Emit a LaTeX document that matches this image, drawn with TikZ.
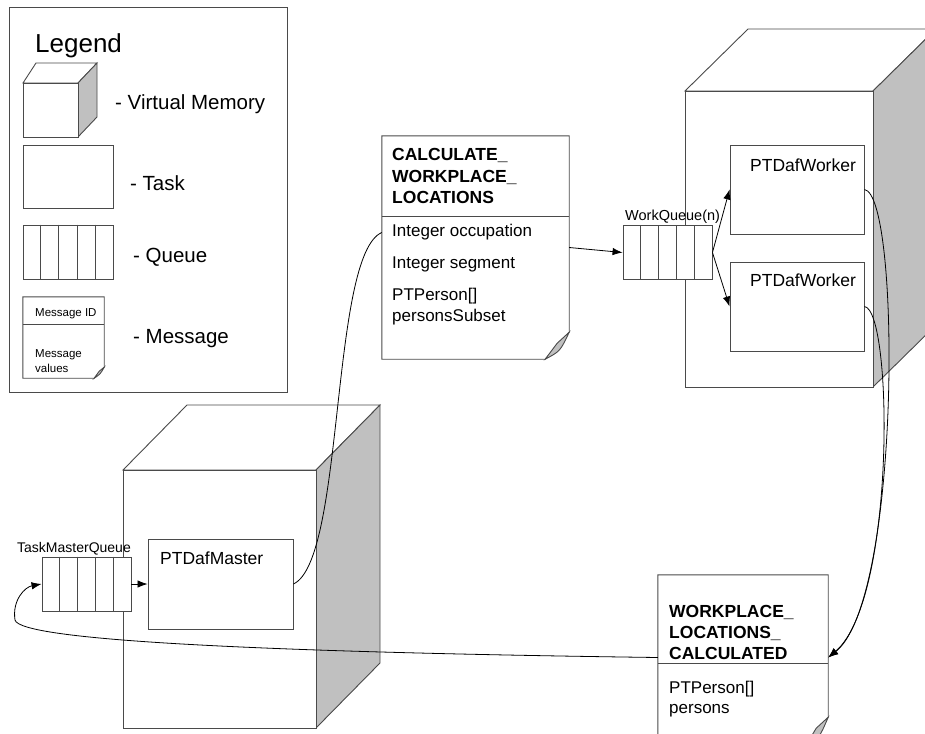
\documentclass[tikz,border=0pt]{standalone}
\usepackage{fontspec}
\setmainfont{Liberation Sans}
\usepackage{tikz}
\usetikzlibrary{arrows.meta,calc}
\definecolor{edgegray}{HTML}{4A4A4A}
\definecolor{sidegray}{HTML}{C0C0C0}
\tikzset{
  shapeline/.style={draw=edgegray,line width=0.9pt},
  taskbox/.style={shapeline,fill=white,rectangle,inner sep=0pt},
  queuebox/.style={shapeline,fill=white,rectangle,inner sep=0pt,minimum width=89pt,minimum height=54pt},
  msgarea/.style={rectangle,inner sep=0pt},
  flow/.style={black,line width=0.8pt},
  flowarrow/.style={flow,-{Latex[length=10pt,width=7.5pt]}},
  txt/.style={anchor=base west,inner sep=0pt},
  bigtxt/.style={txt,font=\fontsize{20.5pt}{24pt}\selectfont},
  tasktxt/.style={txt,font=\fontsize{17.5pt}{21pt}\selectfont},
  headtxt/.style={txt,font=\fontsize{17.5pt}{21pt}\selectfont\bfseries},
  bodytxt/.style={txt,font=\fontsize{17pt}{20pt}\selectfont},
  qtxt/.style={txt,font=\fontsize{14pt}{17pt}\selectfont},
  smalltxt/.style={txt,font=\fontsize{11.5pt}{14pt}\selectfont}
}
\begin{document}
\begin{tikzpicture}[x=1pt,y=-1pt,>=Latex]
  \useasboundingbox (0,0) rectangle (925,733);
  \clip (0,0) rectangle (925,733);

  % legend
  \node[taskbox,minimum width=278pt,minimum height=385pt] (legendbox) at (148.5,199.5) {};
  \node[txt,font=\fontsize{26pt}{30pt}\selectfont] (legendtitle) at (35,53) {Legend};
  \draw[shapeline,fill=white] (23,83) -- (36,63) -- (97,63) -- (78,83) -- cycle;
  \draw[shapeline,fill=sidegray] (78,83) -- (97,63) -- (97,117) -- (78,137) -- cycle;
  \draw[shapeline,fill=white] (23,83) rectangle (78,137);
  \node[bigtxt] (vmlabel) at (115,110) {- Virtual Memory};
  \node[taskbox,minimum width=90pt,minimum height=63pt] (taskicon) at (68,176.5) {};
  \node[bigtxt] (tasklabel) at (130,190) {- Task};
  \node[queuebox,minimum width=90pt] (queueicon) at (68,252) {};
  \node[bigtxt] (queuelabel) at (133,262) {- Queue};
  \node[msgarea,minimum width=81pt,minimum height=81pt] (msgicon) at (63.5,337.5) {};
  \draw[shapeline,fill=white] (msgicon.north west) -- (msgicon.north east) -- ([yshift=11pt]msgicon.south east)
    -- ([xshift=-10pt]msgicon.south east) -- (msgicon.south west) -- cycle;
  \draw[shapeline,fill=sidegray] ([yshift=11pt]msgicon.south east) -- ([xshift=-5pt,yshift=7pt]msgicon.south east)
    -- ([xshift=-10pt]msgicon.south east) .. controls ([xshift=-4pt,yshift=4pt]msgicon.south east) .. cycle;
  \draw[shapeline] ([yshift=-28pt]msgicon.north west) -- ([yshift=-28pt]msgicon.north east);
  \node[smalltxt] (msgid) at (35,316) {Message ID};
  \node[smalltxt] (msgvalues) at (35,357) {Message};
  \node[smalltxt] (msgvalues2) at (35,372) {values};
  \node[bigtxt] (msglabel) at (133,343) {- Message};

  % worker memory
  \draw[shapeline,fill=white] (685,91) -- (748,29) -- (936,29) -- (873,91) -- cycle;
  \draw[shapeline,fill=sidegray] (873,91) -- (936,29) -- (936,325) -- (873,387) -- cycle;
  \draw[shapeline,fill=white] (685,91) rectangle (873,387);
  \node[taskbox,minimum width=134pt,minimum height=89pt] (wone) at (797,189.5) {};
  \node[taskbox,minimum width=134pt,minimum height=89pt] (wtwo) at (797,306.5) {};
  \node[tasktxt] (wonelabel) at (750,171) {PTDafWorker};
  \node[tasktxt] (wtwolabel) at (750,286) {PTDafWorker};

  % master memory
  \draw[shapeline,fill=white] (123,470) -- (187,405) -- (380,405) -- (316,470) -- cycle;
  \draw[shapeline,fill=sidegray] (316,470) -- (380,405) -- (380,663) -- (316,728) -- cycle;
  \draw[shapeline,fill=white] (123,470) rectangle (316,728);
  \node[taskbox,minimum width=145pt,minimum height=90pt] (master) at (220.5,584) {};
  \node[tasktxt] (masterlabel) at (160,564) {PTDafMaster};

  % queues
  \node[queuebox] (tmq) at (86.5,584) {};
  \node[qtxt] (tmqlabel) at (17,552) {TaskMasterQueue};
  \node[queuebox] (wq) at (667.5,252.5) {};
  \node[qtxt,font=\fontsize{14.5pt}{17pt}\selectfont] (wqlabel) at (625,220) {WorkQueue(n)};
  \foreach \q in {queueicon,tmq,wq}
    \foreach \i in {1,...,4}
      \draw[shapeline] ($(\q.north west)!\i/5!(\q.north east)$) -- ($(\q.south west)!\i/5!(\q.south east)$);

  % messages
  \node[msgarea,minimum width=187pt,minimum height=223pt] (calcmsg) at (475.5,247.5) {};
  \draw[shapeline,fill=white] (calcmsg.north west) -- (calcmsg.north east) -- ([yshift=27pt]calcmsg.south east)
    -- ([xshift=-24pt]calcmsg.south east) -- (calcmsg.south west) -- cycle;
  \draw[shapeline,fill=sidegray] ([yshift=27pt]calcmsg.south east) -- ([xshift=-12pt,yshift=16pt]calcmsg.south east)
    -- ([xshift=-24pt]calcmsg.south east) .. controls ([xshift=-9pt,yshift=8pt]calcmsg.south east) .. cycle;
  \draw[shapeline] ([yshift=-81pt]calcmsg.north west) -- ([yshift=-81pt]calcmsg.north east);
  \node[headtxt] (calchead1) at (392,160) {CALCULATE\_};
  \node[headtxt] (calchead2) at (392,182) {WORKPLACE\_};
  \node[headtxt] (calchead3) at (392,203) {LOCATIONS};
  \node[bodytxt] (calcocc) at (392,236) {Integer occupation};
  \node[bodytxt] (calcseg) at (392,268) {Integer segment};
  \node[bodytxt] (calcpers) at (392,300) {PTPerson[]};
  \node[bodytxt] (calcsub) at (392,321) {personsSubset};

  \node[msgarea,minimum width=170pt,minimum height=173pt] (wlmsg) at (743,661.5) {};
  \draw[shapeline,fill=white] (wlmsg.north west) -- (wlmsg.north east) -- ([yshift=31pt]wlmsg.south east)
    -- ([xshift=-24pt]wlmsg.south east) -- (wlmsg.south west) -- cycle;
  \draw[shapeline,fill=sidegray] ([yshift=31pt]wlmsg.south east) -- ([xshift=-12pt,yshift=20pt]wlmsg.south east)
    -- ([xshift=-24pt]wlmsg.south east) .. controls ([xshift=-9pt,yshift=10pt]wlmsg.south east) .. cycle;
  \draw[shapeline] ([yshift=-89pt]wlmsg.north west) -- ([yshift=-89pt]wlmsg.north east);
  \node[headtxt] (wlhead1) at (669,617) {WORKPLACE\_};
  \node[headtxt] (wlhead2) at (669,638) {LOCATIONS\_};
  \node[headtxt] (wlhead3) at (669,659) {CALCULATED};
  \node[bodytxt] (wlpers) at (669,693) {PTPerson[]};
  \node[bodytxt] (wlpers2) at (669,713) {persons};

  % connectors
  \draw[flow] (master.east) .. controls (345,560) and (330,255) .. ([yshift=15pt]calcmsg.west);
  \draw[flowarrow] (calcmsg.east) -- (wq.west);
  \draw[flowarrow] (wq.east) -- (wone.west);
  \draw[flowarrow] (wq.east) -- (wtwo.west);
  \draw[flowarrow] (wone.east) .. controls (901,195) and (901,600) .. ([yshift=4pt]wlmsg.east);
  \draw[flowarrow] (wtwo.east) .. controls (893,310) and (896,600) .. ([yshift=4pt]wlmsg.east);
  \draw[flowarrow] ([yshift=4pt]wlmsg.west) .. controls (250,652) and (20,640) .. (15,620)
    .. controls (12,600) and (25,587) .. (tmq.west);
  \draw[flowarrow] (tmq.east) -- (master.west);
\end{tikzpicture}
\end{document}
